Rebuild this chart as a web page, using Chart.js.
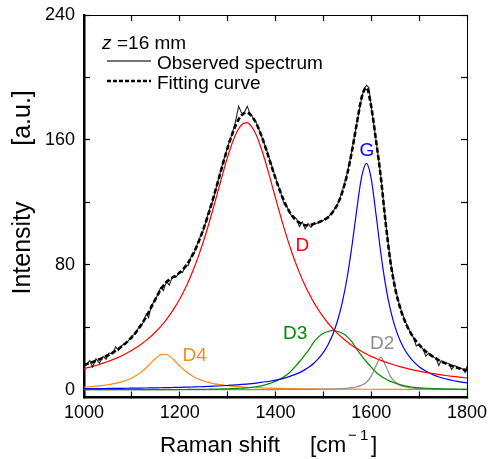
<!DOCTYPE html>
<html>
<head>
<meta charset="utf-8">
<script src="https://cdn.jsdelivr.net/npm/chart.js@4.4.1/dist/chart.umd.min.js"></script>
<style>
  html, body { margin: 0; padding: 0; background: #fff; }
  canvas { display: block; }
</style>
</head>
<body>
<canvas id="myChart" width="490" height="459"></canvas>
<script>
// Raman shift grid for the fitted curves [cm-1]
const shift = [
  1000,1010,1020,1030,1040,1050,1060,1070,1080,1090,
  1100,1110,1120,1130,1140,1150,1160,1170,1180,1190,
  1200,1210,1220,1230,1240,1250,1260,1270,1280,1290,
  1300,1310,1320,1330,1340,1350,1360,1370,1380,1390,
  1400,1410,1420,1430,1440,1450,1460,1470,1480,1490,
  1500,1510,1520,1530,1540,1550,1560,1570,1580,1590,
  1600,1610,1620,1630,1640,1650,1660,1670,1680,1690,
  1700,1710,1720,1730,1740,1750,1760,1770,1780,1790,1800
];

const bandD = [
  13.51,14.27,15.11,16.01,17.0,18.07,19.25,20.53,21.95,23.51,
  25.22,27.13,29.24,31.58,34.2,37.12,40.4,44.07,48.21,52.86,
  58.1,64.0,70.63,78.08,86.36,95.53,105.5,116.2,127.3,138.5,
  149.1,158.3,165.5,169.9,171.0,168.5,163.0,154.8,144.9,134.0,
  122.8,111.8,101.4,91.74,82.93,75.0,67.88,61.56,55.94,50.94,
  46.49,42.56,39.04,35.92,33.12,30.61,28.37,26.34,24.52,22.86,
  21.36,20.0,18.76,17.63,16.59,15.64,14.77,13.96,13.22,12.54,
  11.9,11.31,10.76,10.25,9.78,9.33,8.92,8.53,8.17,7.84,7.51
];

const bandD4 = [
  1.67,1.88,2.11,2.40,2.75,3.17,3.69,4.34,5.15,6.19,
  7.52,9.23,11.4,14.07,17.14,20.16,22.30,22.71,21.18,18.39,
  15.27,12.41,10.04,8.15,6.68,5.54,4.64,3.93,3.36,2.90,
  2.53,2.22,1.97,1.75,1.57,1.41,1.28,1.16,1.06,0.97,
  0.89,0.82,0.76,0.71,0.66,0.61,0.57,0.53,0.50,0.47,
  0.45,0.43,0.40,0.38,0.36,0.34,0.32,0.31,0.29,0.28,
  0.27,0.26,0.24,0.23,0.22,0.21,0.21,0.20,0.19,0.18,
  0.18,0.17,0.17,0.16,0.16,0.15,0.15,0.14,0.14,0.13,0.13
];

const bandG = [
  0.66,0.69,0.71,0.74,0.76,0.79,0.82,0.85,0.89,0.92,
  0.96,1.0,1.04,1.09,1.14,1.19,1.24,1.30,1.37,1.44,
  1.51,1.59,1.68,1.77,1.87,1.98,2.10,2.23,2.37,2.53,
  2.71,2.90,3.11,3.35,3.62,3.92,4.26,4.64,5.08,5.58,
  6.15,6.82,7.61,8.53,9.63,10.94,12.54,14.5,16.93,20.0,
  23.92,29.0,35.69,44.62,56.59,72.5,92.8,116,136.5,145,
  135.1,112.2,87.5,66.86,51.31,39.94,31.66,25.55,20.96,17.46,
  14.74,12.59,10.86,9.47,8.31,7.36,6.56,5.88,5.30,4.80,4.37
];

const bandD3 = [
  0,0,0,0,0,0,0.01,0.01,0.01,0.02,
  0.03,0.03,0.04,0.04,0.05,0.06,0.07,0.08,0.09,0.10,
  0.12,0.13,0.15,0.18,0.21,0.25,0.30,0.35,0.42,0.48,
  0.55,0.65,0.8,1.0,1.2,1.5,1.9,2.5,3.2,4.2,
  5.3,6.8,8.7,11.2,14.4,17.9,21.7,25.8,30.4,33.8,
  36.1,37.3,38,37.3,36.1,33.8,30.4,25.8,21.7,17.9,
  14.4,11.2,8.7,6.8,5.3,4.2,3.2,2.5,1.9,1.5,
  1.2,1.0,0.8,0.65,0.55,0.47,0.41,0.35,0.3,0.25,0.2
];

const bandD2 = [
  0.02,0.02,0.02,0.02,0.02,0.02,0.02,0.02,0.02,0.02,
  0.02,0.02,0.02,0.02,0.03,0.03,0.03,0.03,0.03,0.03,
  0.03,0.03,0.03,0.03,0.04,0.04,0.04,0.04,0.04,0.05,
  0.05,0.05,0.05,0.06,0.06,0.06,0.07,0.07,0.08,0.09,
  0.10,0.11,0.12,0.13,0.15,0.17,0.19,0.21,0.24,0.28,
  0.32,0.38,0.45,0.55,0.7,0.9,1.3,1.9,2.9,4.8,
  8.7,15.4,20.7,15.4,8.7,4.8,2.9,1.9,1.3,0.9,
  0.7,0.55,0.45,0.38,0.32,0.28,0.24,0.21,0.19,0.17,0.15
];

const fitting = [
  15.86,16.86,17.95,19.17,20.53,22.05,23.78,25.74,28.01,30.64,
  33.75,37.41,41.74,46.8,52.56,58.56,64.04,68.19,70.88,72.82,
  75.03,78.16,82.53,88.21,95.16,103.34,112.58,122.75,133.49,144.46,
  154.94,164.12,171.43,176.06,177.45,175.39,170.51,163.17,154.32,144.84,
  135.4,126.8,119.4,113.5,109.5,107.0,105.5,105.3,106.3,107.3,
  108.6,110.5,114.0,119.0,127.0,138.3,153.4,170.8,187.2,193.5,
  181.2,159.6,136.2,107.0,82.2,64.8,52.74,44.11,37.57,32.58,
  28.72,25.62,23.04,20.91,19.12,17.59,16.28,15.11,14.1,13.19,12.36
];

// observed spectrum, read at its own points
const obsShift = [
  1000,1005,1012,1018,1025,1032,1040,1046,1052,1060,1066,1072,1080,1090,
  1100,1108,1115,1122,1130,1135,1140,1150,1160,1166,1172,1178,1185,1192,
  1200,1206,1212,1218,1225,1230,1240,1250,1260,1270,1280,1290,
  1300,1310,1316,1323,1328,1332,1337,1341,1346,1350,1355,1360,1370,1380,1390,
  1400,1410,1418,1425,1432,1438,1444,1450,1456,1462,1468,1474,1480,1490,
  1500,1510,1520,1530,1540,1550,1560,1570,1580,1585,1590,1595,
  1600,1610,1620,1630,1640,1650,1660,1670,1680,1688,1694,
  1700,1708,1714,1720,1730,1736,1741,1746,1755,1762,1768,1774,1782,1790,1796,1800
];
const observed = [
  17.5,16.0,18.6,14.5,19.8,17.0,21.3,19.5,23.5,23.0,27.5,25.0,28.5,30.2,
  34.5,35.8,40.5,42.0,48.5,46.0,53.5,58.0,65.5,63.5,69.5,67.0,72.5,72.0,
  75.8,75.0,80.0,79.5,86.5,87.5,96.0,102.8,113.5,122.0,134.0,145.2,
  155.5,164.5,171.0,181.5,178.0,176.0,179.0,181.5,177.5,176.0,172.5,171.0,163.0,154.8,145.5,
  135.8,127.0,119.0,116.5,112.0,111.0,109.5,104.5,107.5,103.0,106.5,104.0,106.0,107.0,
  108.5,110.5,114.0,119.0,127.5,138.8,153.8,170.8,187.0,192.5,195.0,193.5,
  181.5,159.8,136.5,107.5,82.5,65.0,53.0,44.5,37.8,33.5,28.0,
  29.0,26.0,21.5,23.5,21.0,19.8,15.5,18.5,17.0,16.8,13.0,15.5,14.2,13.4,11.0,15.0
];

const xTicks = [1000,1100,1200,1300,1400,1500,1600,1700,1800];
const xLabels = [1000,1200,1400,1600,1800];
const yTicks = [0,40,80,120,160,200,240];
const yLabels = [0,80,160,240];

const bandNames = ['D','G','D3','D2','D4'];
const bandColors = ['#ff0000','#0000ff','#008c00','#8c8c8c','#ff8a14'];
const nameAt = [1456,1591,1441,1623,1231];
const nameLevel = [92.9,154.2,37.0,30.2,22.9];

const family = "'Liberation Sans', Arial, sans-serif";

function pts(xs, ys) {
  return xs.map((x, i) => ({ x: x, y: ys[i] }));
}

function band(label, ys, color) {
  return {
    label: label,
    data: pts(shift, ys),
    borderColor: color,
    borderWidth: 1.2,
    pointRadius: 0,
    cubicInterpolationMode: 'monotone',
    fill: false
  };
}

const textPlugin = {
  id: 'texts',
  afterDraw(chart) {
    const ctx = chart.ctx;
    const sx = chart.scales.x, sy = chart.scales.y;
    ctx.save();
    ctx.textBaseline = 'alphabetic';

    // band names
    ctx.font = '19px ' + family;
    ctx.textAlign = 'center';
    bandNames.forEach((n, i) => {
      ctx.fillStyle = bandColors[i];
      ctx.fillText(n, sx.getPixelForValue(nameAt[i]), sy.getPixelForValue(nameLevel[i]) + 6.8);
    });

    // legend
    ctx.textAlign = 'left';
    ctx.fillStyle = '#000';
    ctx.font = 'italic 19px ' + family;
    ctx.fillText('z', 102, 48.5);
    ctx.font = '19px ' + family;
    ctx.fillText('=16 mm', 117, 48.5);
    ctx.fillText('Observed spectrum', 157, 69);
    ctx.fillText('Fitting curve', 157, 89);

    ctx.strokeStyle = '#444';
    ctx.lineWidth = 1.4;
    ctx.beginPath(); ctx.moveTo(107, 61); ctx.lineTo(151, 61); ctx.stroke();
    ctx.strokeStyle = '#000';
    ctx.lineWidth = 2.5;
    ctx.setLineDash([4, 2]);
    ctx.beginPath(); ctx.moveTo(107, 81); ctx.lineTo(151, 81); ctx.stroke();
    ctx.setLineDash([]);

    // x title
    ctx.font = '22.5px ' + family;
    ctx.fillText('Raman shift', 160, 452);
    ctx.fillText('[cm', 310, 452);
    ctx.fillText(']', 371, 452);
    ctx.font = '15px ' + family;
    ctx.fillText('\u2212', 348, 440);
    ctx.fillText('1', 360, 440);

    // y title
    ctx.font = '25px ' + family;
    ctx.textAlign = 'center';
    ctx.save();
    ctx.translate(30, 248);
    ctx.rotate(-Math.PI / 2);
    ctx.fillText('Intensity', 0, 0);
    ctx.restore();
    ctx.save();
    ctx.translate(30, 118);
    ctx.rotate(-Math.PI / 2);
    ctx.fillText('[a.u.]', 0, 0);
    ctx.restore();

    ctx.restore();
  }
};

function noPad(s) {
  s.paddingLeft = 0;
  s.paddingRight = 0;
  s.paddingTop = 0;
  s.paddingBottom = 0;
}

function axis(position, ticks, min, max, size, opts) {
  const horizontal = position === 'top' || position === 'bottom';
  return Object.assign({
    type: 'linear',
    position: position,
    min: min,
    max: max,
    afterBuildTicks: s => { s.ticks = ticks.map(v => ({ value: v })); },
    afterFit: s => {
      if (horizontal) s.height = size; else s.width = size;
      noPad(s);
    },
    grid: {
      drawOnChartArea: false,
      drawTicks: true,
      tickLength: -6,
      tickWidth: 1.2,
      tickColor: '#000'
    },
    border: { display: true, color: '#000', width: 1 },
    ticks: { display: false }
  }, opts);
}

const config = {
  type: 'line',
  data: {
    datasets: [
      {
        label: 'Fitting curve',
        data: pts(shift, fitting),
        borderColor: '#000',
        borderWidth: 2.6,
        borderDash: [5, 2.5],
        pointRadius: 0,
        cubicInterpolationMode: 'monotone',
        fill: false
      },
      {
        label: 'Observed spectrum',
        data: pts(obsShift, observed),
        borderColor: '#222',
        borderWidth: 1.1,
        pointRadius: 0,
        tension: 0,
        fill: false
      },
      band('D', bandD, bandColors[0]),
      band('G', bandG, bandColors[1]),
      band('D3', bandD3, bandColors[2]),
      band('D2', bandD2, bandColors[3]),
      band('D4', bandD4, bandColors[4])
    ]
  },
  options: {
    responsive: false,
    animation: false,
    layout: { padding: { left: 0, right: 23, top: 15, bottom: 0 } },
    plugins: { legend: { display: false }, tooltip: { enabled: false } },
    scales: {
      x: axis('bottom', xTicks, 1000, 1800, 61.5, {
        border: { display: true, color: '#000', width: 2.5 },
        ticks: {
          display: true,
          autoSkip: false,
          maxRotation: 0,
          minRotation: 0,
          padding: 11,
          color: '#000',
          font: { family: family, size: 18 },
          callback: v => xLabels.includes(v) ? String(v) : ''
        }
      }),
      x2: axis('top', xTicks, 1000, 1800, 0, {}),
      y: axis('left', yTicks, -5, 240, 84, {
        border: { display: true, color: '#000', width: 2.5 },
        ticks: {
          display: true,
          padding: 15,
          color: '#000',
          font: { family: family, size: 18 },
          callback: v => yLabels.includes(v) ? String(v) : ''
        }
      }),
      y2: axis('right', yTicks, -5, 240, 0, {})
    }
  },
  plugins: [textPlugin]
};

myChart = new Chart(document.getElementById('myChart'), config);
</script>
</body>
</html>
